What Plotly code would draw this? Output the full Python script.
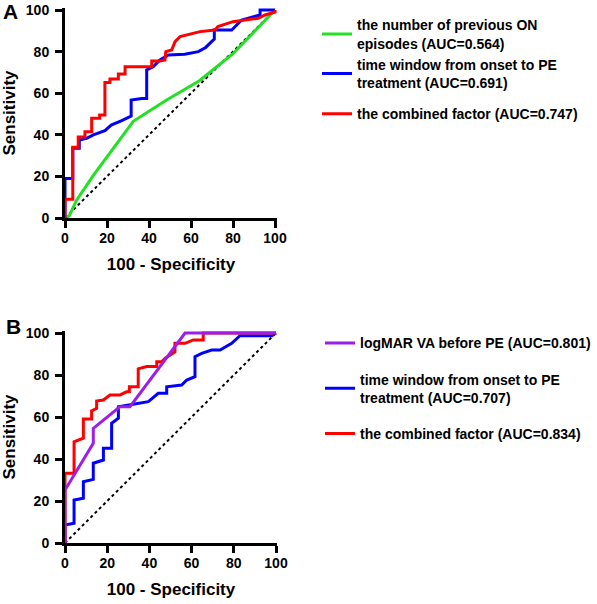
import plotly.graph_objects as go

# ---------------- Panel A data ----------------
a_green_x = [0, 2, 5.5, 13.5, 32.5, 48, 64, 80, 100]
a_green_y = [0, 1, 8.6, 20.5, 46.5, 56.5, 66, 79, 100]

a_blue_x = [0, 0, 3.7, 3.7, 6.8, 6.8, 10.3, 13.5, 19, 22, 27, 31.5, 31.5, 36.5, 38.9, 38.9,
            42, 45.2, 49.2, 57, 63.5, 67, 69.8, 71.1, 71.1, 79.4, 84.1, 90.5, 92.9, 92.9, 100]
a_blue_y = [0, 19, 19, 33.5, 33.5, 37.5, 38.3, 40, 42, 44.7, 46.8, 49, 56.7, 57.5, 57.5, 71.2,
            72.7, 76, 78.4, 78.7, 80, 82, 84.8, 86, 90.4, 90.4, 95.2, 96.8, 97.6, 100, 100]

a_red_x = [0, 0, 3.7, 3.7, 6.3, 6.3, 9.5, 9.5, 12.7, 12.7, 16.5, 16.5, 19, 19, 21.4, 21.4,
           25.4, 25.4, 28.6, 28.6, 41.3, 41.3, 45.2, 47.6, 48, 50.8, 52.4, 54.8, 64.3, 71.4,
           72.8, 80, 92, 95.2, 100, 100]
a_red_y = [0, 9, 9, 34, 34, 39, 39, 41.5, 41.5, 48, 48, 49.5, 49.5, 65.2, 65.2, 66.8,
           66.8, 69.2, 69.2, 72.7, 72.7, 75.5, 75.5, 76, 80, 80.8, 84.8, 87.2, 89.6, 90.4,
           92, 94.4, 96, 97.6, 99, 100]

# ---------------- Panel B data ----------------
b_purple_x = [0, 0, 13.4, 13.4, 26, 30.8, 56.9, 100]
b_purple_y = [0, 25.2, 47.5, 54.6, 64.9, 64.9, 100, 100]

b_blue_x = [0, 0, 4.3, 4.3, 8.7, 8.7, 13.4, 13.4, 18.2, 18.2, 22.1, 22.1, 25.3, 25.3, 31.6,
            39.5, 44.2, 48.2, 48.2, 55.3, 57.7, 61.6, 61.6, 64.8, 69.5, 73.5, 79, 82.9, 98, 100]
b_blue_y = [0, 8.6, 9.4, 20.5, 21.3, 29.2, 30.3, 38, 39.5, 45.1, 45.1, 57, 59.4, 64.9, 66,
            67.3, 71.3, 71.3, 74.4, 75.2, 77.6, 79.2, 88.7, 90.3, 91.9, 91.9, 95.1, 98.7, 98.7, 100]

b_red_x = [0, 0, 4.3, 4.3, 8.7, 8.7, 12.6, 12.6, 15, 15, 18.2, 21.3, 26.1, 29.2, 30.5, 30.5,
           34.7, 34.7, 38.7, 43.5, 43.5, 45.8, 47.5, 50.5, 52.1, 52.1, 56.9, 60.8, 65.5, 65.5, 100]
b_red_y = [0, 33.2, 33.2, 48.2, 49.9, 59, 59, 62.9, 64.1, 67.6, 68.1, 70.5, 70.5, 72, 72, 74.4,
           74.4, 82.9, 84, 84, 86.3, 86.3, 88, 90, 91, 95.1, 95.1, 96.7, 96.7, 100, 100]

ref_line = [0, 100]
tick_vals = [0, 20, 40, 60, 80, 100]

labels_a = ["the number of previous ON<br>episodes (AUC=0.564)",
            "time window from onset to PE<br>treatment (AUC=0.691)",
            "the combined factor (AUC=0.747)"]
labels_b = ["logMAR VA before PE (AUC=0.801)",
            "time window from onset to PE<br>treatment (AUC=0.707)",
            "the combined factor (AUC=0.834)"]

GREEN = "#22E022"
BLUE = "#0000FF"
RED = "#FF0000"
PURPLE = "#9B1FE8"
FONT = "Arial, Liberation Sans, sans-serif"

fig = go.Figure()

# Panel A
fig.add_trace(go.Scatter(x=ref_line, y=ref_line, mode="lines", xaxis="x", yaxis="y",
                         line=dict(color="black", width=2, dash="dot"), showlegend=False, hoverinfo="skip"))
fig.add_trace(go.Scatter(x=a_green_x, y=a_green_y, mode="lines", xaxis="x", yaxis="y",
                         line=dict(color=GREEN, width=3), name=labels_a[0],
                         legend="legend", legendgroup="a1", legendrank=1))
fig.add_trace(go.Scatter(x=a_blue_x, y=a_blue_y, mode="lines", xaxis="x", yaxis="y",
                         line=dict(color=BLUE, width=3), name=labels_a[1],
                         legend="legend", legendgroup="a1", legendrank=2))
fig.add_trace(go.Scatter(x=a_red_x, y=a_red_y, mode="lines", xaxis="x", yaxis="y",
                         line=dict(color=RED, width=3), name=labels_a[2],
                         legend="legend", legendgroup="a2", legendrank=3))

# Panel B
fig.add_trace(go.Scatter(x=ref_line, y=ref_line, mode="lines", xaxis="x2", yaxis="y2",
                         line=dict(color="black", width=2, dash="dot"), showlegend=False, hoverinfo="skip"))
fig.add_trace(go.Scatter(x=b_blue_x, y=b_blue_y, mode="lines", xaxis="x2", yaxis="y2",
                         line=dict(color=BLUE, width=3), name=labels_b[1],
                         legend="legend2", legendgroup="b2", legendrank=2))
fig.add_trace(go.Scatter(x=b_red_x, y=b_red_y, mode="lines", xaxis="x2", yaxis="y2",
                         line=dict(color=RED, width=3), name=labels_b[2],
                         legend="legend2", legendgroup="b3", legendrank=3))
fig.add_trace(go.Scatter(x=b_purple_x, y=b_purple_y, mode="lines", xaxis="x2", yaxis="y2",
                         line=dict(color=PURPLE, width=3), name=labels_b[0],
                         legend="legend2", legendgroup="b1", legendrank=1))

# Plot area: x 65..277 px, y 8..545 px (page body margin removed below)
axis_common = dict(showline=True, linecolor="black", linewidth=3, ticks="outside",
                   ticklen=7, tickwidth=3, tickcolor="black", showgrid=False, zeroline=False,
                   tickvals=tick_vals, layer="below traces",
                   tickfont=dict(size=14, family=FONT, color="black", weight="bold"),
                   fixedrange=True)

fig.update_layout(
    width=597, height=604,
    margin=dict(l=65, r=320, t=8, b=59, autoexpand=False),
    paper_bgcolor="white", plot_bgcolor="white",
    font=dict(family=FONT, color="black", size=14, weight="bold"),
    xaxis=dict(axis_common, domain=[0, 1], range=[0, 100.95], anchor="y",
               ticklabelstandoff=-2,
               title=dict(text="100 - Specificity", standoff=14,
                          font=dict(size=17, family=FONT, weight="bold"))),
    yaxis=dict(axis_common, domain=[0.6089, 1.0], range=[0, 100.96], anchor="x",
               ticklabelstandoff=3,
               title=dict(text="Sensitivity", standoff=11,
                          font=dict(size=17, family=FONT, weight="bold"))),
    xaxis2=dict(axis_common, domain=[0, 1], range=[0, 100.47], anchor="y2",
                ticklabelstandoff=-2,
                title=dict(text="100 - Specificity", standoff=14,
                           font=dict(size=17, family=FONT, weight="bold"))),
    yaxis2=dict(axis_common, domain=[0.0037, 0.3985], range=[0, 100.95], anchor="x2",
                ticklabelstandoff=3,
                title=dict(text="Sensitivity", standoff=11,
                           font=dict(size=17, family=FONT, weight="bold"))),
    legend=dict(x=1.1887, y=0.9976, xanchor="left", yanchor="top", tracegroupgap=10,
                bgcolor="rgba(0,0,0,0)", font=dict(size=14, family=FONT, weight="bold")),
    legend2=dict(x=1.2028, y=0.4052, xanchor="left", yanchor="top", tracegroupgap=15,
                 bgcolor="rgba(0,0,0,0)", font=dict(size=14, family=FONT, weight="bold")),
    annotations=[
        dict(text="A", x=-0.2594, y=0.9926, xref="paper", yref="paper", showarrow=False,
             xanchor="center", yanchor="middle", font=dict(size=21, family=FONT, weight="bold")),
        dict(text="B", x=-0.2406, y=0.406, xref="paper", yref="paper", showarrow=False,
             xanchor="center", yanchor="middle", font=dict(size=21, family=FONT, weight="bold")),
    ],
)

fig.write_html("out.html", config={"displayModeBar": False},
               post_script="document.body.style.margin='0px';")
